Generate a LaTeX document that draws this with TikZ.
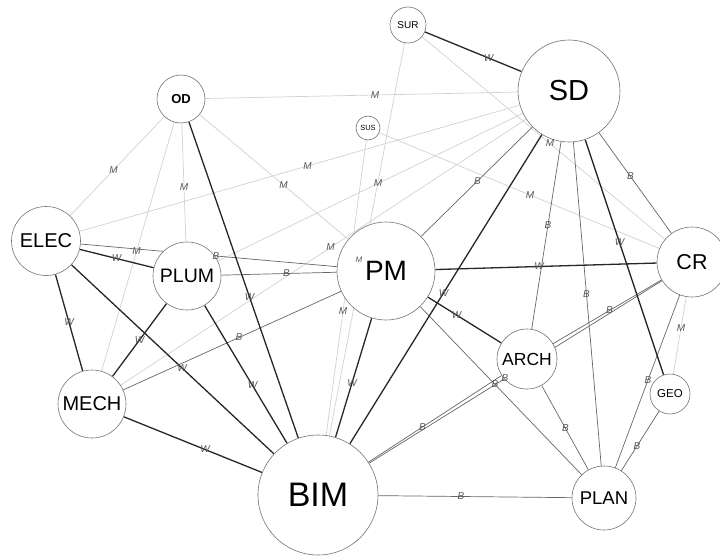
\documentclass[tikz,border=0pt]{standalone}
\usepackage{fontspec}
\setmainfont{Liberation Sans}
\pgfdeclarelayer{back}
\pgfdeclarelayer{front}
\pgfsetlayers{back,main,front}
\begin{document}
\begin{tikzpicture}[x=1pt, y=-1pt,
  nd/.style={shape=circle, draw=black!55, fill=white, line width=0.6pt, inner sep=0pt, text=black},
  wl/.style={-, line width=1.3pt, draw=black!85},
  bl/.style={-, line width=0.7pt, draw=black!60},
  ml/.style={-, line width=0.7pt, draw=black!18},
  lbl/.style={font=\fontsize{10}{10}\selectfont\itshape, text=black!65, inner sep=0pt}]
\useasboundingbox (0,0) rectangle (720,559);
% nodes
\node[nd, minimum size=36pt, font=\fontsize{10}{10}\selectfont] (SUR) at (408,25) {SUR};
\node[nd, minimum size=102pt, font=\fontsize{29}{29}\selectfont] (SD) at (569,91) {SD};
\node[nd, minimum size=48pt, font=\bfseries\fontsize{13}{13}\selectfont] (OD) at (181,99) {OD};
\node[nd, minimum size=24pt, font=\fontsize{7.5}{7.5}\selectfont] (SUS) at (368,128) {SUS};
\node[nd, minimum size=69pt, font=\fontsize{20}{20}\selectfont] (ELEC) at (46,241) {ELEC};
\node[nd, minimum size=68pt, font=\fontsize{19.5}{19.5}\selectfont] (PLUM) at (187,276) {PLUM};
\node[nd, minimum size=98pt, font=\fontsize{28}{28}\selectfont] (PM) at (386,271) {PM};
\node[nd, minimum size=70pt, font=\fontsize{21.5}{21.5}\selectfont] (CR) at (692,262) {CR};
\node[nd, minimum size=60pt, font=\fontsize{17.5}{17.5}\selectfont] (ARCH) at (527,359) {ARCH};
\node[nd, minimum size=40pt, font=\fontsize{11.5}{11.5}\selectfont] (GEO) at (670,394) {GEO};
\node[nd, minimum size=68pt, font=\fontsize{20}{20}\selectfont] (MECH) at (92,404) {MECH};
\node[nd, minimum size=120pt, font=\fontsize{34}{34}\selectfont] (BIM) at (318,495) {BIM};
\node[nd, minimum size=64pt, font=\fontsize{18.5}{18.5}\selectfont] (PLAN) at (604,498) {PLAN};
% links
\begin{pgfonlayer}{back}
\path [ml] (SUR) edge (BIM);
\path [ml] (SUR) edge (CR);
\path [ml] (SUS) edge (BIM);
\path [ml] (SUS) edge (CR);
\path [ml] (OD) edge (SD);
\path [ml] (OD) edge (ELEC);
\path [ml] (OD) edge (PLUM);
\path [ml] (OD) edge (MECH);
\path [ml] (OD) edge (PM);
\path [ml] (SD) edge (ELEC);
\path [ml] (SD) edge (PLUM);
\path [ml] (SD) edge (MECH);
\path [ml] (CR) edge (GEO);
\path [bl] (SD) edge (PM);
\path [bl] (SD) edge (ARCH);
\path [bl] (SD) edge (PLAN);
\path [bl] (SD) edge (CR);
\path [bl] (ELEC) edge (PM);
\path [bl] (PLUM) edge (PM);
\path [bl] (MECH) edge (PM);
\path [bl] (PM) edge (PLAN);
\path [bl] (BIM) edge (ARCH);
\path [bl] (BIM) edge (CR);
\path [bl] (ARCH) edge (CR);
\path [bl] (ARCH) edge (PLAN);
\path [bl] (CR) edge (PLAN);
\path [bl] (GEO) edge (PLAN);
\path [bl] (BIM) edge (PLAN);
\path [wl] (SUR) edge (SD);
\path [wl] (OD) edge (BIM);
\path [wl] (ELEC) edge (PLUM);
\path [wl] (ELEC) edge (MECH);
\path [wl] (ELEC) edge (BIM);
\path [wl] (PLUM) edge (MECH);
\path [wl] (PLUM) edge (BIM);
\path [wl] (MECH) edge (BIM);
\path [wl] (PM) edge (CR);
\path [wl] (PM) edge (ARCH);
\path [wl] (PM) edge (BIM);
\path [wl] (SD) edge (BIM);
\path [wl] (SD) edge (GEO);
\end{pgfonlayer}
% link labels
\begin{pgfonlayer}{front}
\path (SUR.center) -- node[lbl, xshift=-4pt, font=\fontsize{8}{8}\selectfont\itshape] {M} (BIM.center);
\path (SUR.center) -- node[lbl] {M} (CR.center);
\path (SUS.center) -- node[lbl] {M} (BIM.center);
\path (SUS.center) -- node[lbl] {M} (CR.center);
\path (OD.center) -- node[lbl] {M} (SD.center);
\path (OD.center) -- node[lbl] {M} (ELEC.center);
\path (OD.center) -- node[lbl] {M} (PLUM.center);
\path (OD.center) -- node[lbl] {M} (MECH.center);
\path (OD.center) -- node[lbl] {M} (PM.center);
\path (SD.center) -- node[lbl] {M} (ELEC.center);
\path (SD.center) -- node[lbl] {M} (PLUM.center);
\path (SD.center) -- node[lbl] {M} (MECH.center);
\path (CR.center) -- node[lbl] {M} (GEO.center);
\path (SD.center) -- node[lbl] {B} (PM.center);
\path (SD.center) -- node[lbl] {B} (ARCH.center);
\path (SD.center) -- node[lbl] {B} (PLAN.center);
\path (SD.center) -- node[lbl] {B} (CR.center);
\path (ELEC.center) -- node[lbl] {B} (PM.center);
\path (PLUM.center) -- node[lbl] {B} (PM.center);
\path (MECH.center) -- node[lbl] {B} (PM.center);
\path (PM.center) -- node[lbl] {B} (PLAN.center);
\path (BIM.center) -- node[lbl] {B} (ARCH.center);
\path (BIM.center) -- node[lbl] {B} (CR.center);
\path (ARCH.center) -- node[lbl] {B} (CR.center);
\path (ARCH.center) -- node[lbl] {B} (PLAN.center);
\path (CR.center) -- node[lbl] {B} (PLAN.center);
\path (GEO.center) -- node[lbl] {B} (PLAN.center);
\path (BIM.center) -- node[lbl] {B} (PLAN.center);
\path (SUR.center) -- node[lbl] {W} (SD.center);
\path (OD.center) -- node[lbl] {W} (BIM.center);
\path (ELEC.center) -- node[lbl] {W} (PLUM.center);
\path (ELEC.center) -- node[lbl] {W} (MECH.center);
\path (ELEC.center) -- node[lbl] {W} (BIM.center);
\path (PLUM.center) -- node[lbl] {W} (MECH.center);
\path (PLUM.center) -- node[lbl] {W} (BIM.center);
\path (MECH.center) -- node[lbl] {W} (BIM.center);
\path (PM.center) -- node[lbl] {W} (CR.center);
\path (PM.center) -- node[lbl] {W} (ARCH.center);
\path (PM.center) -- node[lbl] {W} (BIM.center);
\path (SD.center) -- node[lbl] {W} (BIM.center);
\path (SD.center) -- node[lbl] {W} (GEO.center);
\end{pgfonlayer}
\end{tikzpicture}
\end{document}
